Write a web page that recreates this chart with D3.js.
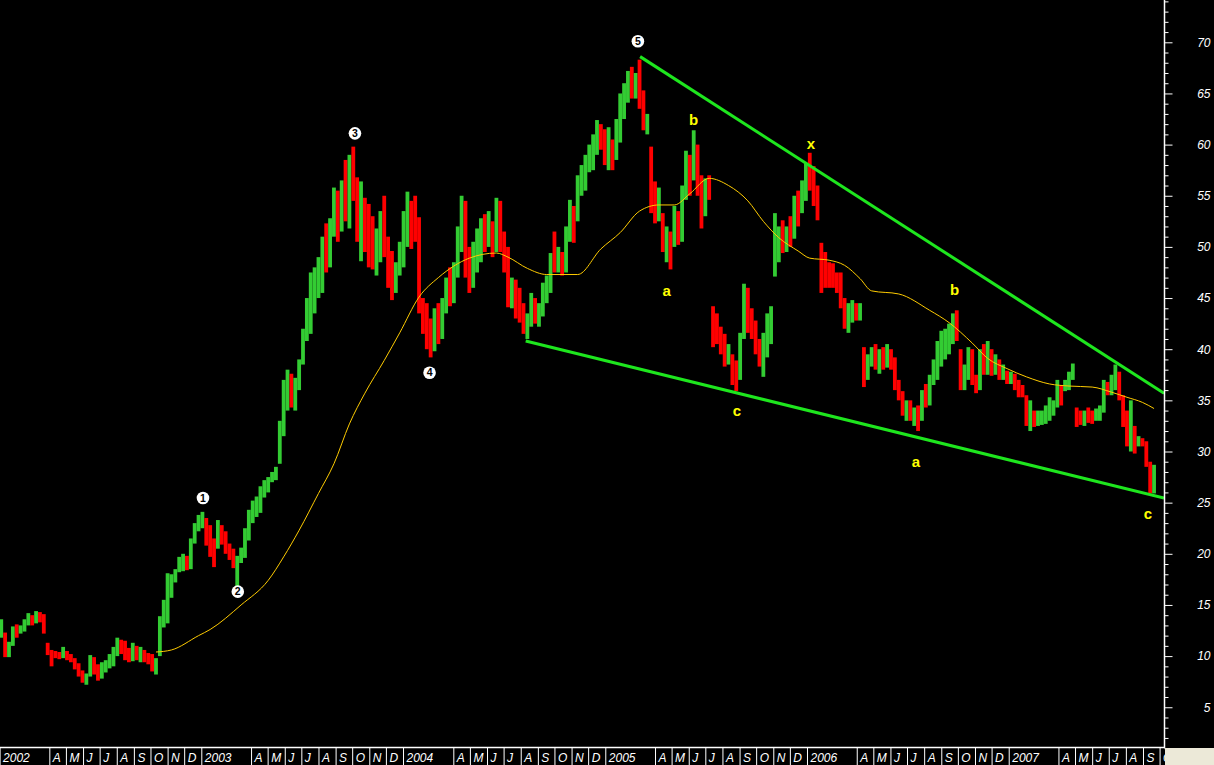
<!DOCTYPE html>
<html><head><meta charset="utf-8">
<script src="https://cdn.jsdelivr.net/npm/d3@7"></script>
<style>html,body{margin:0;padding:0;background:#000;overflow:hidden}svg{display:block}</style>
</head><body>
<svg id="chart" width="1214" height="765"></svg>
<script>
// ---- data (weekly bars) ----
const firstWeek = "2002-01-04";
const weekHigh = [
13.6,12.3,11.4,12.9,13.1,13.0,13.6,14.2,14.0,14.4,
14.3,14.1,11.3,10.6,10.5,10.4,10.9,10.5,10.2,9.8,
9.3,8.6,8.3,10.1,9.9,9.2,9.4,9.6,10.2,10.9,
11.8,11.6,11.5,10.8,11.3,11.0,10.9,10.6,10.3,10.2,
9.8,13.9,15.5,18.1,18.0,18.5,19.7,20.0,19.8,21.5,
23.0,23.8,24.1,23.5,22.8,21.5,23.3,22.8,22.2,21.0,
20.5,19.8,20.6,22.5,24.3,25.2,25.6,26.6,27.2,27.5,
28.0,28.5,33.0,37.0,38.0,37.6,37.2,39.0,42.0,45.0,
47.5,48.0,49.0,51.0,52.3,52.8,55.8,55.5,56.5,58.5,
59.0,59.8,56.8,56.4,54.8,54.2,53.0,51.8,53.5,55.0,
51.0,49.6,48.5,50.5,53.5,55.4,54.5,55.0,52.9,45.0,
44.5,43.0,44.0,44.5,45.0,47.0,48.0,48.5,52.0,55.0,
54.5,50.0,50.5,51.8,52.8,53.2,53.5,52.5,54.8,54.5,
51.5,50.0,47.0,46.8,46.0,44.5,43.5,45.5,45.0,44.5,
46.5,47.2,49.4,51.5,50.0,49.5,52.0,54.6,54.0,57.0,
58.0,59.0,60.0,61.0,62.4,62.0,61.5,61.7,60.5,62.5,
65.0,66.0,67.2,67.6,67.0,68.3,65.3,63.0,59.8,56.4,
55.8,53.3,52.0,51.5,54.0,53.5,56.0,59.4,59.0,61.4,
60.0,57.0,56.7,57.0,44.2,43.5,42.2,41.5,40.5,39.5,
38.9,41.6,46.4,46.0,44.0,42.8,41.0,41.6,43.5,44.2,
53.3,52.0,52.6,52.0,53.0,55.0,55.5,56.5,58.2,59.2,
57.9,56.0,50.4,49.5,48.5,48.4,47.5,47.5,45.0,44.5,
44.8,44.5,44.5,40.2,39.5,40.2,40.5,40.0,40.2,40.5,
40.0,39.2,37.0,35.9,35.0,35.0,34.3,34.5,36.0,36.6,
37.5,39.0,40.8,41.8,42.0,42.5,43.5,43.8,40.0,38.5,
40.2,40.0,37.5,40.0,40.5,40.8,40.0,39.5,39.0,38.5,
37.9,37.8,37.6,37.0,36.5,35.5,35.0,34.0,34.0,34.0,
34.5,35.3,35.0,37.0,36.5,37.0,37.8,38.6,34.3,34.0,
34.0,34.3,34.0,34.2,34.5,37.0,36.8,37.5,38.5,37.8,
35.5,34.0,35.0,32.5,31.5,31.3,31.0,29.0,28.7];
const weekLow = [
11.8,9.9,9.9,11.0,11.8,12.2,12.4,13.0,13.0,13.2,
13.3,12.2,10.1,9.0,9.8,9.7,9.8,9.6,9.4,8.7,
8.0,7.4,7.2,8.0,8.2,7.6,7.8,8.4,8.8,9.0,
10.0,10.2,9.6,9.4,9.5,9.6,9.4,9.4,9.2,8.5,
8.2,10.0,12.8,13.2,15.7,17.2,18.2,18.3,18.4,18.5,
21.0,22.2,22.5,20.8,19.7,18.7,20.5,20.9,20.0,19.4,
18.6,16.8,19.1,19.6,21.3,23.0,23.6,24.0,25.5,26.0,
27.0,27.2,28.8,31.5,34.0,34.3,34.0,36.0,38.5,40.8,
41.5,43.5,45.0,45.5,47.5,48.0,51.0,50.5,51.5,52.5,
51.8,54.5,50.5,48.6,49.5,48.0,47.8,47.2,48.5,49.0,
46.0,44.8,45.5,47.2,48.0,50.0,49.8,50.5,43.5,41.5,
40.0,39.2,39.8,40.5,41.0,43.5,44.2,44.5,47.0,49.5,
47.0,45.5,46.0,47.5,48.5,49.5,50.0,49.0,49.5,49.5,
47.5,44.1,44.0,43.0,42.6,41.5,41.0,42.2,42.5,42.2,
43.2,44.5,45.5,47.5,47.5,47.2,47.5,50.5,50.4,52.5,
55.0,55.5,57.3,57.5,59.0,59.5,58.0,57.5,57.5,58.5,
60.2,62.5,64.1,64.5,64.5,63.5,61.4,61.0,53.3,52.3,
52.5,49.5,48.5,47.8,50.0,50.2,50.5,54.6,55.0,56.5,
55.0,51.8,53.0,54.6,40.2,40.5,39.5,38.3,38.5,36.5,
35.9,37.0,41.0,41.6,41.0,39.5,38.3,37.3,39.2,40.5,
47.1,48.5,49.4,49.5,50.0,50.8,52.0,53.3,54.5,55.5,
54.0,52.6,45.5,46.0,46.0,46.0,45.5,44.0,42.0,41.6,
42.6,42.8,42.8,36.3,37.0,38.3,38.0,37.6,38.0,38.2,
38.0,36.0,35.0,33.5,33.0,33.0,32.5,32.0,33.0,34.3,
34.5,36.5,37.0,38.3,39.0,39.5,40.5,40.8,36.0,36.0,
37.0,36.5,35.7,36.0,37.5,37.5,37.4,37.5,37.0,37.0,
36.6,36.6,36.0,35.3,35.3,32.5,32.0,32.4,32.5,32.6,
32.7,33.0,33.5,34.3,34.5,35.9,36.0,37.0,32.4,32.6,
32.5,32.8,32.7,33.0,33.0,33.8,35.5,35.5,36.0,35.0,
32.4,30.5,30.0,29.8,30.5,30.5,28.5,25.9,25.9];
const weekClose = [
12.1,10.4,11.2,12.6,12.3,12.8,13.2,13.8,13.4,14.0,
13.6,12.5,10.4,10.2,10.1,10.0,10.2,9.9,9.6,9.0,
8.3,7.8,8.1,9.6,8.6,8.4,9.0,9.2,9.9,10.6,
11.5,10.6,10.0,9.8,10.9,10.0,10.5,9.7,9.5,8.8,
9.6,13.5,15.0,17.0,17.5,18.2,19.0,19.2,19.0,21.2,
22.5,23.2,23.6,21.4,20.2,19.2,22.6,21.4,20.5,19.8,
18.9,19.3,19.8,22.0,23.9,24.4,25.0,26.2,26.8,27.0,
27.6,28.2,32.5,35.5,36.2,35.0,36.5,38.4,41.5,44.5,
46.0,47.2,48.0,50.5,49.0,52.0,54.0,52.5,55.5,54.0,
57.5,56.0,52.0,53.5,51.0,50.5,49.0,50.8,52.5,50.0,
47.5,46.2,47.8,49.8,51.8,53.0,52.5,51.0,44.0,42.5,
41.0,40.5,43.0,42.0,44.2,46.5,45.5,47.8,51.5,53.0,
48.5,47.0,49.5,50.0,51.5,50.5,52.0,50.2,54.0,50.0,
48.5,45.0,45.5,44.0,43.2,42.0,42.8,44.5,43.0,44.0,
45.8,46.0,48.8,48.5,49.0,48.0,51.5,53.5,52.5,56.5,
57.0,57.5,59.0,60.0,61.5,60.0,59.0,60.5,58.5,62.0,
64.0,65.0,66.5,65.5,66.5,64.0,62.0,62.5,55.0,53.5,
54.0,50.0,51.5,50.5,53.5,51.0,55.5,58.5,57.0,60.0,
55.5,54.0,56.0,55.5,41.5,41.0,40.0,39.0,39.5,37.0,
36.5,41.0,45.5,42.5,41.5,40.0,39.0,40.0,42.5,43.8,
50.0,51.5,50.0,51.5,50.5,54.5,53.0,56.0,57.5,56.5,
54.5,53.0,48.5,47.5,47.0,46.5,46.0,44.5,43.0,43.5,
44.0,43.5,44.0,37.5,38.5,39.5,38.5,39.5,38.5,39.8,
39.0,36.5,35.5,34.0,34.5,33.5,33.8,33.0,35.5,35.0,
37.0,38.0,40.0,40.5,41.5,42.0,43.0,41.0,36.5,38.0,
39.5,37.0,36.0,39.5,38.5,39.0,38.0,38.5,37.8,38.0,
37.2,37.5,36.5,36.0,35.8,33.0,33.5,33.0,33.5,33.5,
34.0,34.5,34.8,36.5,35.5,36.5,37.5,38.3,33.5,33.0,
33.8,33.5,33.2,34.0,34.2,36.5,36.0,37.0,37.5,35.5,
33.0,31.0,31.5,31.0,31.0,30.8,29.0,26.5,28.0];

// moving average (read at sample weeks)
const maWeek = [40,44,51,54,62,69,73,77,82,86,90,94,99,103,108,113,121,128,131,136,141,149,155,160,165,170,174,178,183,188,193,197,201,206,209,214,218,222,225,232,240,245,251,255,260,265,271,276,282,287,291,295,298];
const maValue = [10.4,10.6,12.0,12.6,15.0,17.4,19.7,22.3,25.9,28.8,32.7,35.7,38.9,41.6,45.1,47.0,48.9,49.4,49.0,47.9,47.3,47.3,49.8,51.4,53.5,54.1,54.1,55.2,56.7,56.0,54.5,52.5,50.9,49.6,48.9,48.7,48.2,46.9,45.7,45.4,43.8,42.6,40.6,39.1,38.1,37.3,36.6,36.4,36.3,35.8,35.3,34.8,34.2];

// trend lines
const upperTrendDates = ["2005-03-05","2007-10-09"];
const upperTrendValues = [68.6,35.7];
const lowerTrendDates = ["2004-08-10","2007-10-09"];
const lowerTrendValues = [40.8,25.45];

// wave annotations
const waveNames = ["1","2","3","4","5"];
const waveDates = ["2003-01-04","2003-03-08","2003-10-06","2004-02-18","2005-03-01"];
const waveValues = [25.45,16.3,61.1,37.7,70.1];
const corrNames = ["b","a","c","x","b","a","c"];
const corrDates = ["2005-06-10","2005-04-22","2005-08-27","2006-01-08","2006-09-25","2006-07-17","2007-09-10"];
const corrValues = [62.4,45.7,34.0,60.1,45.8,29.0,23.9];

// axis labels
const yMajorTicks = [5,10,15,20,25,30,35,40,45,50,55,60,65,70];
const monthLetters = ["J","F","M","A","M","J","J","A","S","O","N","D"];

// ---- drawing ----
const svg = d3.select("#chart");
const parse = d3.timeParse("%Y-%m-%d");
const axisX = 1164, axisY = 748;
const x = d3.scaleTime().domain([new Date(2002,0,1), new Date(2007,9,9)]).range([-0.4, axisX]);
const y = d3.scaleLinear().domain([0,70]).range([758.4, 42.3]);
const weekDate = i => d3.timeDay.offset(parse(firstWeek), 7*i);
const FONT = "Liberation Sans, Arial, sans-serif";

svg.append("rect").attr("width",1214).attr("height",765).attr("fill","#000");
svg.append("defs").append("clipPath").attr("id","plot")
  .append("rect").attr("x",0).attr("y",0).attr("width",axisX).attr("height",axisY);
const plot = svg.append("g").attr("clip-path","url(#plot)");

const bars = weekHigh.map((h,i)=>({d:weekDate(i),h,l:weekLow[i],c:weekClose[i],
  up: i===0 ? true : weekClose[i] >= weekClose[i-1]}));
plot.selectAll("rect.bar").data(bars).join("rect").attr("class","bar")
  .attr("x",d=>x(d.d)-1.9).attr("width",3.8)
  .attr("y",d=>y(d.h)).attr("height",d=>Math.max(1,y(d.l)-y(d.h)))
  .attr("fill",d=>d.up?"#33cc33":"#ff0000");

// moving average
const maPts = maWeek.map((w,i)=>({d:weekDate(w),v:maValue[i]}));
plot.append("path").datum(maPts)
  .attr("d", d3.line().x(d=>x(d.d)).y(d=>y(d.v)).curve(d3.curveMonotoneX))
  .attr("fill","none").attr("stroke","#ffcc00").attr("stroke-width",1);

// trend lines
function trend(dates, vals){
  const pts = dates.map((s,i)=>({d:parse(s),v:vals[i]}));
  plot.append("path").datum(pts)
    .attr("d", d3.line().x(d=>x(d.d)).y(d=>y(d.v)))
    .attr("stroke","#1ee61e").attr("stroke-width",3).attr("fill","none");
}
trend(upperTrendDates, upperTrendValues);
trend(lowerTrendDates, lowerTrendValues);

// wave labels
const wg = svg.append("g");
waveNames.forEach((n,i)=>{
  const cx = x(parse(waveDates[i])), cy = y(waveValues[i]);
  wg.append("circle").attr("cx",cx).attr("cy",cy).attr("r",6.3).attr("fill","#fff");
  wg.append("text").attr("x",cx).attr("y",cy+3.6).attr("text-anchor","middle")
    .attr("font-family",FONT).attr("font-size",10.5).attr("font-weight","bold")
    .attr("fill","#000").text(n);
});
corrNames.forEach((n,i)=>{
  wg.append("text").attr("x",x(parse(corrDates[i]))).attr("y",y(corrValues[i])+5)
    .attr("text-anchor","middle")
    .attr("font-family",FONT).attr("font-size",15).attr("font-weight","bold")
    .attr("fill","#ffff00").text(n);
});

// right axis
const yMinor = d3.range(1,75).filter(v=>v%5!==0);
const ya = svg.append("g").attr("transform",`translate(${axisX+0.5},0)`);
ya.call(d3.axisRight(y).tickValues(yMinor).tickSize(4).tickFormat(""));
ya.call(g=>g.select(".domain").remove());
const yb = svg.append("g").attr("transform",`translate(${axisX+0.5},0)`);
yb.call(d3.axisRight(y).tickValues(yMajorTicks).tickSize(8).tickFormat(d3.format("d")));
yb.call(g=>g.select(".domain").remove());
svg.selectAll(".tick line").attr("stroke","#fff");
yb.selectAll("text").attr("x",46).attr("text-anchor","end").attr("fill","#fff")
  .attr("font-family",FONT).attr("font-size",12).attr("font-style","italic");
svg.append("line").attr("x1",axisX+0.5).attr("x2",axisX+0.5).attr("y1",0).attr("y2",axisY)
  .attr("stroke","#fff").attr("stroke-width",1.5);

// bottom axis
const months = d3.timeMonth.range(new Date(2002,0,1), new Date(2007,9,2))
  .filter(d=>d.getMonth()!==1 && d.getMonth()!==2);
const xa = svg.append("g").attr("transform",`translate(0,${axisY})`);
xa.call(d3.axisBottom(x).tickValues(months).tickSize(17)
  .tickFormat(d=>d.getMonth()===0 ? d3.timeFormat("%Y")(d) : monthLetters[d.getMonth()]));
xa.select(".domain").remove();
xa.selectAll(".tick line").attr("stroke","#fff");
xa.selectAll("text").attr("x",3).attr("y",13.5).attr("dy",null).attr("text-anchor","start")
  .attr("fill","#fff").attr("font-family",FONT)
  .attr("font-size",12).attr("font-style","italic");
svg.append("line").attr("x1",0).attr("x2",axisX+1).attr("y1",axisY-0.5).attr("y2",axisY-0.5)
  .attr("stroke","#fff").attr("stroke-width",1.5);

// corner box
svg.append("rect").attr("x",axisX+1).attr("y",axisY).attr("width",1214-axisX-1).attr("height",765-axisY)
  .attr("fill","#ece9d8");
</script>
</body></html>
